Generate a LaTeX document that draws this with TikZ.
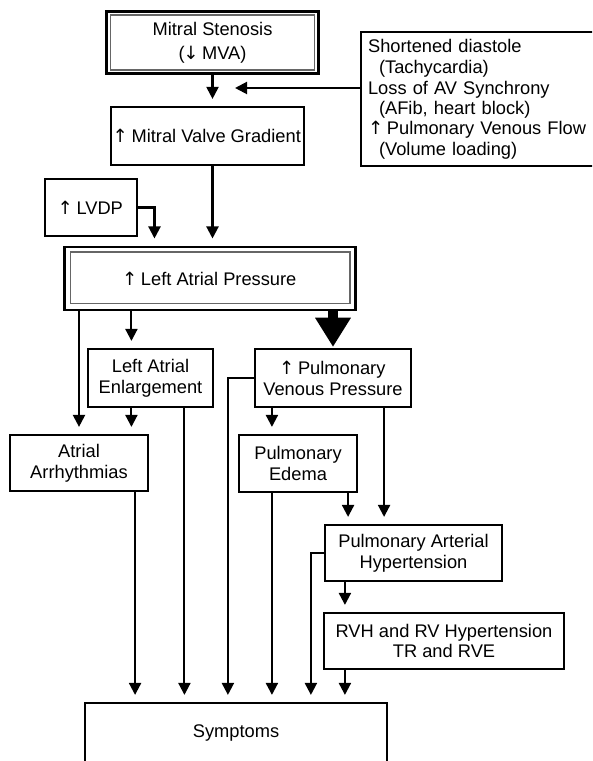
\documentclass[tikz,border=0pt]{standalone}
\usepackage{fontspec}
\setmainfont{Liberation Sans}
\newfontfamily\arrowfont{DejaVu Sans}
\newcommand{\upa}{{\arrowfont\kern-1pt↑\kern2.5pt}}
\newcommand{\downa}{{\arrowfont\kern-1pt↓\kern2.5pt}}
\usetikzlibrary{arrows.meta,calc}

\begin{document}
\begin{tikzpicture}[x=0.025cm, y=-0.025cm, line width=1.5pt,
		box/.style={draw, line width=1.5pt, inner sep=0pt, align=center, font=\fontsize{13}{14.8}\selectfont},
		outerbox/.style={box, line width=2.1pt},
		innerline/.style={draw=black!60, line width=0.8pt},
		arr/.style={-{Triangle[length=0.3cm, width=0.3cm]}, shorten >=5pt},
		bigarr/.style={line width=0.25cm, -{Triangle[length=0.72cm, width=0.9cm, line width=0pt]}, shorten >=1pt}]
		\useasboundingbox (0,0) rectangle (592,761);
		\clip (0,0) rectangle (592,761);

		\node[outerbox, minimum width=5.275cm, minimum height=1.55cm](ms) at (212.5,42.5){Mitral Stenosis\\[2pt](\downa MVA)};
		\draw[innerline] ($(ms.north west)+(5,5)$) rectangle ($(ms.south east)+(-5,-5)$);
		\node[box, anchor=west, align=left, text width=5.9cm, inner xsep=0.175cm, minimum height=3.35cm](cond) at (360,99){Shortened diastole\\\hspace*{0.6em}(Tachycardia)\\Loss of AV Synchrony\\\hspace*{0.6em}(AFib, heart block)\\\upa Pulmonary Venous Flow\\\hspace*{0.6em}(Volume loading)};
		\node[box, minimum width=4.825cm, minimum height=1.45cm](mvg) at (207.5,136){\upa Mitral Valve Gradient};
		\node[box, minimum width=2.3cm, minimum height=1.425cm](lvdp) at (91,207.5){\upa LVDP};
		\node[outerbox, minimum width=7.25cm, minimum height=1.575cm](lap) at (210,278.5){\upa Left Atrial Pressure};
		\draw[innerline] ($(lap.north west)+(7,6.5)$) rectangle ($(lap.south east)+(-6.5,-8)$);
		\node[box, minimum width=3.125cm, minimum height=1.45cm](lae) at (150.5,378){Left Atrial\\Enlargement};
		\node[box, minimum width=3.9cm, minimum height=1.45cm](pvp) at (333,378){\upa Pulmonary\\Venous Pressure};
		\node[box, minimum width=3.45cm, minimum height=1.4cm](aa) at (79,463){Atrial\\Arrhythmias};
		\node[box, minimum width=2.95cm, minimum height=1.425cm](pe) at (298,463.5){Pulmonary\\Edema};
		\node[box, minimum width=4.425cm, minimum height=1.4cm](pah) at (413.5,553){Pulmonary Arterial\\Hypertension};
		\node[box, minimum width=6cm, minimum height=1.4cm](rvh) at (444,641){RVH and RV Hypertension\\TR and RVE};
		\node[box, minimum width=7.55cm, minimum height=1.5cm](sym) at (236,733){Symptoms};

		\coordinate (jn) at (228,88);
		\coordinate (laeL) at ($(lae.north west)+(44.5,0)$);
		\coordinate (laeR) at ($(lae.south west)+(97.5,0)$);
		\coordinate (aaR) at ($(aa.south east)+(-14,0)$);
		\coordinate (pvpL) at ($(pvp.south west)+(18,0)$);
		\coordinate (pvpR) at ($(pvp.south east)+(-28,0)$);
		\coordinate (peR) at ($(pe.south east)+(-10,0)$);
		\coordinate (pahL) at ($(pah.south west)+(21,0)$);

		\draw[arr] (ms.south) -- (ms.south |- mvg.north);
		\draw[arr] (cond.west |- jn) -- (jn);
		\draw[arr] (ms.south |- mvg.south) -- (ms.south |- lap.north);
		\draw[arr] (lvdp.east) -| ($(lap.north west)+(91,0)$);
		\draw[arr] (aa.north |- lap.south) -- (aa.north);
		\draw[arr] (laeL |- lap.south) -- (laeL);
		\draw[bigarr] (pvp.north |- lap.south) -- (pvp.north);
		\draw[arr] (laeL |- lae.south) -- (laeL |- aa.north);
		\draw[arr] (laeR) -- (laeR |- sym.north);
		\draw[arr] (aaR) -- (aaR |- sym.north);
		\draw[arr] (pvpL) -- (pvpL |- pe.north);
		\draw[arr] (pvpL |- pe.south) -- (pvpL |- sym.north);
		\draw[arr] (pvp.west) -| ($(sym.north west)+(144,0)$);
		\draw[arr] (pvpR) -- (pvpR |- pah.north);
		\draw[arr] (peR) -- (peR |- pah.north);
		\draw[arr] (pah.west) -| ($(sym.north west)+(227,0)$);
		\draw[arr] (pahL) -- (pahL |- rvh.north);
		\draw[arr] (pahL |- rvh.south) -- (pahL |- sym.north);
	\end{tikzpicture}
\end{document}
